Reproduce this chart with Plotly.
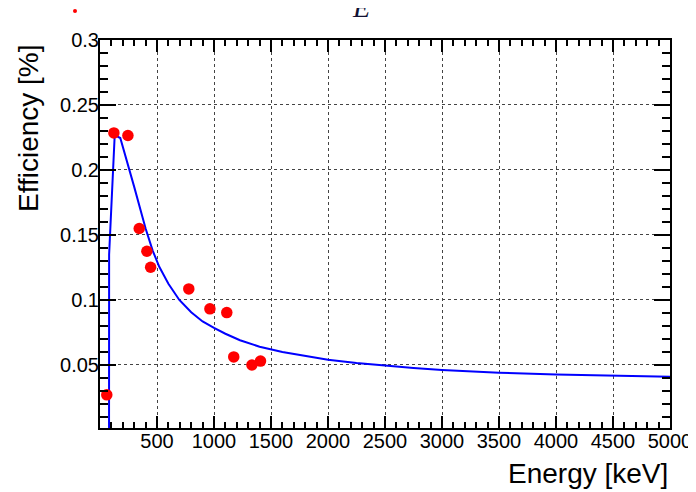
import plotly.graph_objects as go

# Measured data points (energy in keV, efficiency in %)
energy_pts = [59.5, 121.8, 244.7, 344.3, 411.1, 444.0, 778.9, 964.1, 1112.1, 1173.2, 1332.5, 1408.0]
eff_pts = [0.027, 0.2285, 0.2265, 0.155, 0.1375, 0.1252, 0.1085, 0.0932, 0.0903, 0.0562, 0.0500, 0.0530]

# Fitted efficiency curve
curve_energy = [79, 80, 129, 178, 300, 400, 462, 520, 600, 696, 800, 900, 1000, 1100, 1228,
                1400, 1600, 1800, 2000, 2250, 2500, 2750, 3000, 3500, 4000, 4500, 5000]
curve_eff = [-0.05, 0.135, 0.2269, 0.2246, 0.187, 0.155, 0.1380, 0.1255, 0.1125, 0.1000,
             0.0905, 0.0835, 0.0785, 0.0740, 0.0690, 0.0640, 0.0600, 0.0568, 0.0540,
             0.0515, 0.0494, 0.0477, 0.0462, 0.0441, 0.0427, 0.0417, 0.0410]

x_ticks = [500, 1000, 1500, 2000, 2500, 3000, 3500, 4000, 4500, 5000]
y_ticks = [0.05, 0.1, 0.15, 0.2, 0.25, 0.3]
y_labels = ["0.05", "0.1", "0.15", "0.2", "0.25", "0.3"]

fig = go.Figure()
fig.add_trace(go.Scatter(x=curve_energy, y=curve_eff, mode="lines",
                         line=dict(color="#0000ff", width=2), showlegend=False))
fig.add_trace(go.Scatter(x=energy_pts, y=eff_pts, mode="markers",
                         marker=dict(color="#ff0000", size=11.5), showlegend=False))

font = "Liberation Sans, Arial, Helvetica, sans-serif"
common = dict(showline=True, linecolor="black", linewidth=2, mirror="allticks",
              ticks="inside", tickcolor="black", tickwidth=2, automargin=False,
              showgrid=True, gridcolor="#444444", griddash="dot", gridwidth=1,
              zeroline=False, tickfont=dict(family=font, size=20, color="black"))

fig.update_xaxes(range=[0, 5000], tickvals=x_ticks, ticklen=12, ticklabelstandoff=-6,
                 minor=dict(dtick=100, tick0=0, ticklen=6, ticks="inside", tickcolor="black",
                            tickwidth=2, showgrid=False),
                 **common)
fig.update_yaxes(range=[0.0015, 0.3], tickvals=y_ticks, ticktext=y_labels, ticklen=16,
                 ticklabelstandoff=-5,
                 minor=dict(dtick=0.01, tick0=0, ticklen=8, ticks="inside", tickcolor="black",
                            tickwidth=2, showgrid=False),
                 **common)

# the page body has an 8px margin, so the margins are shifted by 8px
fig.update_layout(width=696, height=492, paper_bgcolor="white", plot_bgcolor="white",
                  margin=dict(l=92, r=34, t=32, b=72))

# axis titles (ROOT style: aligned to the end of the axes)
fig.add_annotation(text="Energy [keV]", xref="paper", yref="paper", x=1.0,
                   y=-(491 - 428) / 388, xanchor="right", yanchor="bottom", showarrow=False,
                   font=dict(family=font, size=28, color="black"))
fig.add_annotation(text="Efficiency [%]", xref="paper", yref="paper", x=(28 - 100) / 570,
                   y=1 - (42 - 40) / 388, xanchor="center", yanchor="top", textangle=-90,
                   showarrow=False, font=dict(family=font, size=28, color="black"))

# partially visible title letter and marker at the top
fig.add_annotation(text="<i>E</i>", xref="paper", yref="paper", x=(361 - 100) / 570,
                   y=1 + (40 - 25) / 388, xanchor="center", yanchor="bottom", showarrow=False,
                   font=dict(family="Liberation Serif, serif", size=28, color="#111133"))
fig.add_shape(type="circle", xref="paper", yref="paper",
              x0=(73 - 100) / 570, x1=(77 - 100) / 570,
              y0=1 + (40 - 13) / 388, y1=1 + (40 - 9) / 388,
              fillcolor="#ff0000", line=dict(color="#ff0000", width=0))

fig.write_html("out.html")
